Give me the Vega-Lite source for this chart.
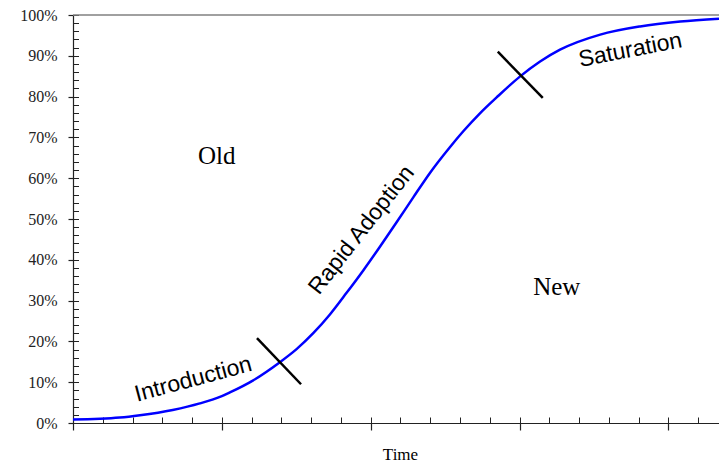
{
  "$schema": "https://vega.github.io/schema/vega-lite/v6.json",
  "width": 646,
  "height": 408,
  "autosize": "none",
  "padding": {"left": 73, "top": 15, "right": 0, "bottom": 41},
  "background": "white",
  "config": {"view": {"stroke": null}, "axis": {"grid": false}},
  "resolve": {"axis": {"x": "independent", "y": "independent"}},
  "layer": [
    {
      "data": {"values": [{"top": 100}]},
      "mark": {"type": "rule", "color": "#808080", "strokeWidth": 1.5},
      "encoding": {"y": {"field": "top", "type": "quantitative", "scale": {"domain": [0, 100], "nice": false}, "axis": null}}
    },
    {
      "data": {"values": [
        {"t": 0, "p": 0.83}, {"t": 1.57, "p": 1.33}, {"t": 2.25, "p": 1.9}, {"t": 3.35, "p": 3.2},
        {"t": 4.26, "p": 4.8}, {"t": 5.0, "p": 6.6}, {"t": 5.27, "p": 7.5}, {"t": 6.04, "p": 10.4},
        {"t": 6.95, "p": 14.9}, {"t": 7.51, "p": 18.1}, {"t": 8.07, "p": 22.0}, {"t": 8.63, "p": 26.6},
        {"t": 9.19, "p": 31.9}, {"t": 9.75, "p": 37.4}, {"t": 10.31, "p": 43.2}, {"t": 10.87, "p": 49.2},
        {"t": 11.43, "p": 55.3}, {"t": 11.99, "p": 61.3}, {"t": 12.66, "p": 67.6}, {"t": 13.11, "p": 71.5},
        {"t": 13.67, "p": 75.9}, {"t": 14.23, "p": 79.8}, {"t": 15.01, "p": 84.9}, {"t": 15.69, "p": 88.6},
        {"t": 16.36, "p": 91.5}, {"t": 17.71, "p": 95.2}, {"t": 19.05, "p": 97.2}, {"t": 20.4, "p": 98.4},
        {"t": 21.7, "p": 99.1}
      ]},
      "mark": {"type": "line", "color": "#0000ff", "strokeWidth": 2.5, "interpolate": "monotone"},
      "encoding": {
        "x": {"field": "t", "type": "quantitative", "scale": {"domain": [0, 21.7], "nice": false, "zero": false},
          "axis": {"orient": "bottom", "values": [0, 5, 10, 15, 20], "tickSize": 7, "labels": false,
            "title": "Time", "titleFont": "Liberation Serif", "titleFontSize": 17, "titleFontWeight": "normal",
            "titleColor": "#000000", "titlePadding": 16, "titleX": 327,
            "domainColor": "#222222", "tickColor": "#222222", "domainWidth": 1.2, "tickWidth": 1.2}},
        "y": {"field": "p", "type": "quantitative", "scale": {"domain": [0, 100], "nice": false},
          "axis": {"orient": "left", "values": [0, 10, 20, 30, 40, 50, 60, 70, 80, 90, 100], "tickSize": 5,
            "labelExpr": "datum.value + '%'", "labelFont": "Liberation Serif", "labelFontSize": 16,
            "labelPadding": 11, "labelColor": "#222222", "title": null,
            "domainColor": "#222222", "tickColor": "#222222", "domainWidth": 1.2, "tickWidth": 1.2}}
      }
    },
    {
      "data": {"values": [
        {"x1": 6.18, "y1": 20.8, "x2": 7.66, "y2": 9.5},
        {"x1": 14.27, "y1": 91.0, "x2": 15.78, "y2": 79.7}
      ]},
      "mark": {"type": "rule", "color": "#000000", "strokeWidth": 2.5},
      "encoding": {
        "x": {"field": "x1", "type": "quantitative",
          "axis": {"orient": "bottom", "values": [0,1,2,3,4,5,6,7,8,9,10,11,12,13,14,15,16,17,18,19,20,21],
            "tickSize": -6, "labels": false, "domain": false, "title": null, "tickColor": "#222222", "tickWidth": 1}},
        "x2": {"field": "x2"},
        "y": {"field": "y1", "type": "quantitative",
          "axis": {"orient": "left", "values": [0,2,4,6,8,10,12,14,16,18,20,22,24,26,28,30,32,34,36,38,40,42,44,46,48,50,52,54,56,58,60,62,64,66,68,70,72,74,76,78,80,82,84,86,88,90,92,94,96,98,100],
            "tickSize": -5.5, "labels": false, "domain": false, "title": null, "tickColor": "#222222", "tickWidth": 1}},
        "y2": {"field": "y2"}
      }
    },
    {
      "data": {"values": [{"x": 4.83, "y": 65.5, "label": "Old"}, {"x": 16.25, "y": 33.4, "label": "New"}]},
      "mark": {"type": "text", "font": "Liberation Serif", "fontSize": 25, "color": "#000000", "align": "center", "baseline": "middle"},
      "encoding": {
        "x": {"field": "x", "type": "quantitative", "axis": null},
        "y": {"field": "y", "type": "quantitative", "axis": null},
        "text": {"field": "label"}
      }
    },
    {
      "data": {"values": [{"x": 4.04, "y": 10.7, "label": "Introduction"}]},
      "mark": {"type": "text", "font": "Liberation Sans", "fontSize": 23, "angle": -15, "color": "#000000", "align": "center", "baseline": "middle"},
      "encoding": {
        "x": {"field": "x", "type": "quantitative", "axis": null},
        "y": {"field": "y", "type": "quantitative", "axis": null},
        "text": {"field": "label"}
      }
    },
    {
      "data": {"values": [{"x": 9.69, "y": 47.3, "label": "Rapid Adoption"}]},
      "mark": {"type": "text", "font": "Liberation Sans", "fontSize": 23, "angle": -52, "color": "#000000", "align": "center", "baseline": "middle"},
      "encoding": {
        "x": {"field": "x", "type": "quantitative", "axis": null},
        "y": {"field": "y", "type": "quantitative", "axis": null},
        "text": {"field": "label"}
      }
    },
    {
      "data": {"values": [{"x": 18.72, "y": 91.4, "label": "Saturation"}]},
      "mark": {"type": "text", "font": "Liberation Sans", "fontSize": 23, "angle": -11, "color": "#000000", "align": "center", "baseline": "middle"},
      "encoding": {
        "x": {"field": "x", "type": "quantitative", "axis": null},
        "y": {"field": "y", "type": "quantitative", "axis": null},
        "text": {"field": "label"}
      }
    }
  ]
}
